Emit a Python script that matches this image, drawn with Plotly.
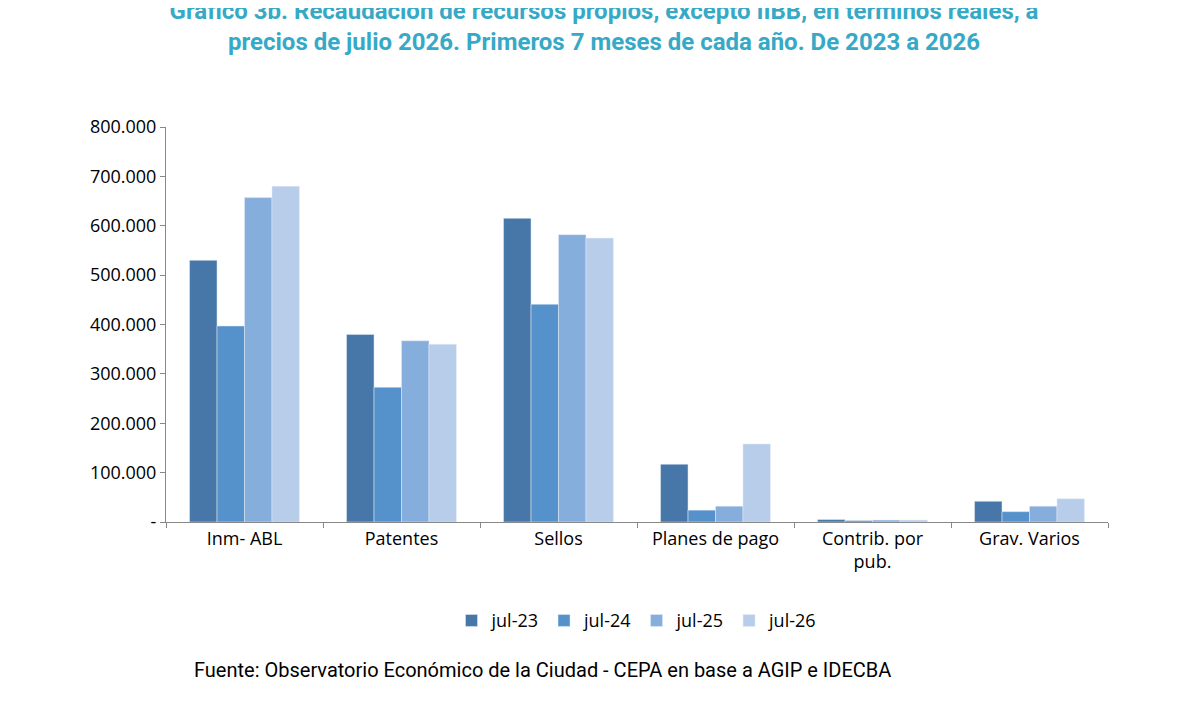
import plotly.graph_objects as go



def plot_recaudacion():
    categorias = ["Inm- ABL", "Patentes", "Sellos", "Planes de pago", "Contrib. por<br>pub.", "Grav. Varios"]
    datos = {
        "jul-23": [530000, 380000, 615000, 117000, 5000, 42000],
        "jul-24": [397000, 273000, 441000, 24000, 3000, 21000],
        "jul-25": [657000, 367000, 582000, 32000, 4000, 32000],
        "jul-26": [680000, 360000, 575000, 158000, 4000, 47000],
    }
    colores = ["#4677A8", "#5592CB", "#86AEDC", "#B8CDEA"]

    fig = go.Figure()
    for (serie, valores), color in zip(datos.items(), colores):
        fig.add_trace(go.Bar(x=categorias, y=valores, name=serie, marker_color=color))

    ticks = list(range(0, 800001, 100000))
    etiquetas = ["-"] + [f"{v:,}".replace(",", ".") for v in ticks[1:]]

    fig.update_layout(
        width=1192, height=716,
        paper_bgcolor="white", plot_bgcolor="white",
        font=dict(family="Open Sans", size=18, color="black"),
        title=dict(text="<b>Gráfico 3b. Recaudación de recursos propios, excepto IIBB, en términos reales, a<br>precios de julio 2026. Primeros 7 meses de cada año. De 2023 a 2026</b>",
                   x=0.5, xanchor="center", y=0.985, yanchor="top",
                   font=dict(family="Roboto", size=24, color="#36A9C6")),
        barmode="group", bargap=0.3, bargroupgap=0,
        margin=dict(l=158, r=92, t=119, b=202),
        legend=dict(orientation="h", x=0.5, xanchor="center", y=-0.25, yanchor="middle",
                    font=dict(size=18), traceorder="normal"),
        showlegend=True,
    )
    fig.update_yaxes(range=[0, 800000], tickvals=ticks, ticktext=etiquetas,
                     showgrid=False, showline=True, linecolor="#888", ticks="outside",
                     tickcolor="#888", ticklen=5)
    fig.update_xaxes(showline=True, linecolor="#888", ticks="outside", tickcolor="#888",
                     tickson="boundaries", ticklen=5)
    fig.add_annotation(text="Fuente: Observatorio Económico de la Ciudad - CEPA en base a AGIP e IDECBA",
                       xref="paper", yref="paper", x=0.4, y=-0.41, xanchor="center",
                       showarrow=False, font=dict(family="Roboto", size=20))
    fig.write_html("out.html")



def main():
    plot_recaudacion()



if __name__ == "__main__":
    main()
